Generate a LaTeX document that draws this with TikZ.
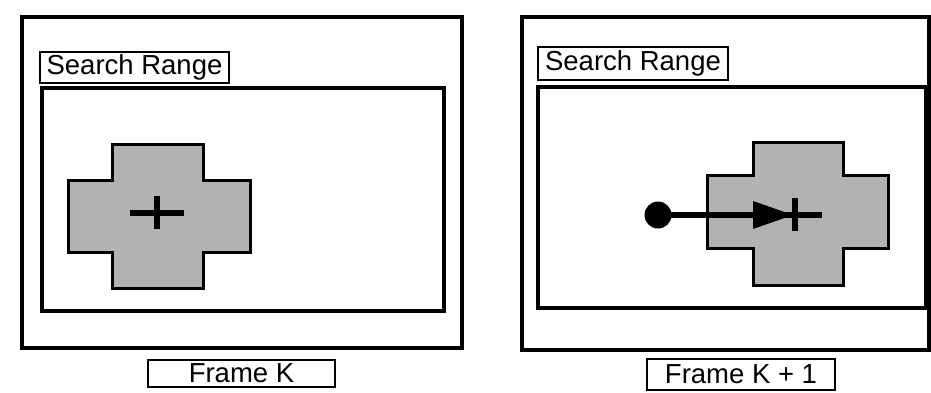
\documentclass[tikz,border=0pt]{standalone}
\usepackage{fontspec}
\setmainfont{Liberation Sans}
\begin{document}
\begin{tikzpicture}[x=1pt,y=-1pt,
  framebox/.style={draw=black,line width=4pt,rectangle,inner sep=0pt,outer sep=0pt},
  rangebox/.style={draw=black,line width=3.6pt,rectangle,inner sep=0pt,outer sep=0pt},
  labelbox/.style={draw=black,line width=2.6pt,rectangle,inner sep=0pt,outer sep=0pt,font=\fontsize{27.5}{30}\selectfont},
  blockshape/.style={draw=black,line width=3pt,fill=black!30,line join=miter},
  centermark/.style={line width=6.5pt,draw=black},
  motion/.style={line width=6pt,draw=black},
  dotnode/.style={circle,fill=black,inner sep=0pt,minimum size=27pt}]
\useasboundingbox (0,0) rectangle (931,392);
% ---------- left panel ----------
\node[framebox,minimum width=440pt,minimum height=331pt] (frameL) at (242,182.5) {};
\node[rangebox,minimum width=402pt,minimum height=223pt] (rangeL) at (243,199.5) {};
\node[labelbox,minimum width=189pt,minimum height=31pt] (srL) at (134.5,67.5) {Search Range};
\draw[blockshape] (112,144) -- (203,144) -- (203,180) -- (250,180) -- (250,252) -- (203,252)
  -- (203,288) -- (112,288) -- (112,252) -- (68,252) -- (68,180) -- (112,180) -- cycle;
\coordinate (cL) at (157,213);
\draw[centermark] ([xshift=-27pt]cL) -- ([xshift=27pt]cL);
\draw[centermark] ([yshift=-16pt]cL) -- ([yshift=17pt]cL);
\node[labelbox,minimum width=187pt,minimum height=27pt] (fK) at (241.5,373.5) {Frame K};
% ---------- right panel ----------
\node[framebox,minimum width=407pt,minimum height=333pt] (frameR) at (725.5,183.5) {};
\node[rangebox,minimum width=388pt,minimum height=221pt] (rangeR) at (732,197.5) {};
\node[labelbox,minimum width=190pt,minimum height=33pt] (srR) at (633,63.5) {Search Range};
\draw[blockshape] (753,142) -- (843,142) -- (843,175) -- (888,175) -- (888,248) -- (843,248)
  -- (843,285) -- (753,285) -- (753,248) -- (707,248) -- (707,175) -- (753,175) -- cycle;
\node[dotnode] (dot) at (658,215) {};
\coordinate (mEnd) at (822,215);
\coordinate (aTip) at (793,215);
\draw[motion] (dot.center) -- (mEnd);
\fill[black] (753,201) -- (aTip) -- (753,229) -- cycle;
\draw[centermark] (795,198) -- (795,231);
\node[labelbox,minimum width=188pt,minimum height=31pt] (fK1) at (741,374.5) {Frame K + 1};
\end{tikzpicture}
\end{document}
